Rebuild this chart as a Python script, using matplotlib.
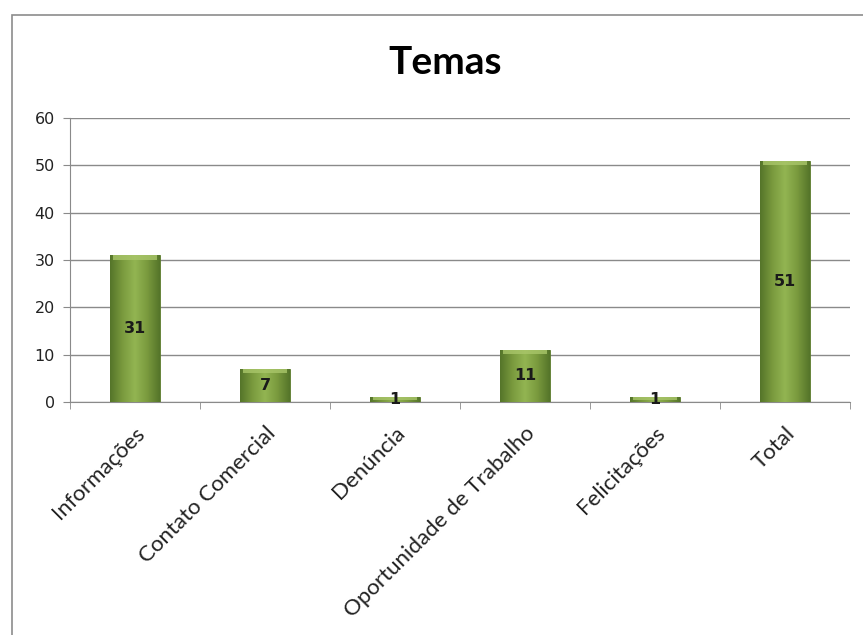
import numpy as np
import matplotlib
matplotlib.use("Agg")
import matplotlib.pyplot as plt
from matplotlib.patches import Rectangle
from matplotlib.colors import LinearSegmentedColormap

categorias = ["Informações", "Contato Comercial", "Denúncia",
              "Oportunidade de Trabalho", "Felicitações", "Total"]
valores = [31, 7, 1, 11, 1, 51]
titulo = "Temas"

fig = plt.figure(figsize=(8.63, 6.35), dpi=100)
fig.patch.set_facecolor("white")

# moldura do grafico (cortada a direita e embaixo como no original)
fig.patches.append(Rectangle((12 / 863, -0.05), 1.0, 1 - 15 / 635 + 0.05,
                             transform=fig.transFigure, fill=False,
                             edgecolor="#8c8c8c", linewidth=1.2))

ax = fig.add_axes([70 / 863, 1 - 402 / 635, 780 / 863, 284 / 635])
x = np.arange(len(categorias))
largura = 0.38

verde = LinearSegmentedColormap.from_list(
    "verde", ["#55752a", "#7a9a3e", "#93b552", "#7a9a3e", "#55752a"])
grad = np.linspace(0, 1, 64).reshape(1, -1)

barras = ax.bar(x, valores, width=largura, color="#77933c",
                edgecolor="#5a7a2c", linewidth=0.6, zorder=3)
for b in barras:
    x0, w, h = b.get_x(), b.get_width(), b.get_height()
    im = ax.imshow(grad, cmap=verde, aspect="auto",
                   extent=(x0, x0 + w, 0, h), zorder=3.5)
    im.set_clip_path(b)
    # chanfro do topo
    cap = min(0.9, h * 0.5)
    ax.add_patch(Rectangle((x0 + w * 0.06, h - cap), w * 0.88, cap,
                           facecolor="#a9c66a", edgecolor="none",
                           alpha=0.8, zorder=3.6))

for xi, v in zip(x, valores):
    ax.text(xi, v / 2, str(v), ha="center", va="center", fontsize=11.5,
            fontweight="bold", color="#1a1a1a", zorder=5)

ax.set_xlim(-0.5, len(categorias) - 0.5)
ax.set_ylim(0, 60)
ax.set_yticks(range(0, 61, 10))
ax.yaxis.grid(True, color="#8a8a8a", linewidth=1.0, zorder=0)
ax.set_axisbelow(True)

ax.set_xticks(x)
ax.set_xticklabels(categorias, rotation=45, ha="right",
                   rotation_mode="anchor", fontsize=16, family="Lato",
                   color="#222222")
ax.tick_params(axis="x", length=0, pad=15)
ax.set_xticks(np.arange(-0.5, len(categorias), 1.0), minor=True)
ax.tick_params(axis="x", which="minor", length=5, color="#8a8a8a")
ax.tick_params(axis="y", length=5, color="#8a8a8a", labelsize=11.5,
               labelcolor="#222222", pad=6)

for s in ["top", "right"]:
    ax.spines[s].set_visible(False)
ax.spines["left"].set_color("#8a8a8a")
ax.spines["bottom"].set_color("#8a8a8a")

fig.text(445 / 863, 1 - 62 / 635, titulo, ha="center", va="center",
         fontsize=28, fontweight="bold", family="Lato", color="black")

fig.savefig("out.png", dpi=100)
